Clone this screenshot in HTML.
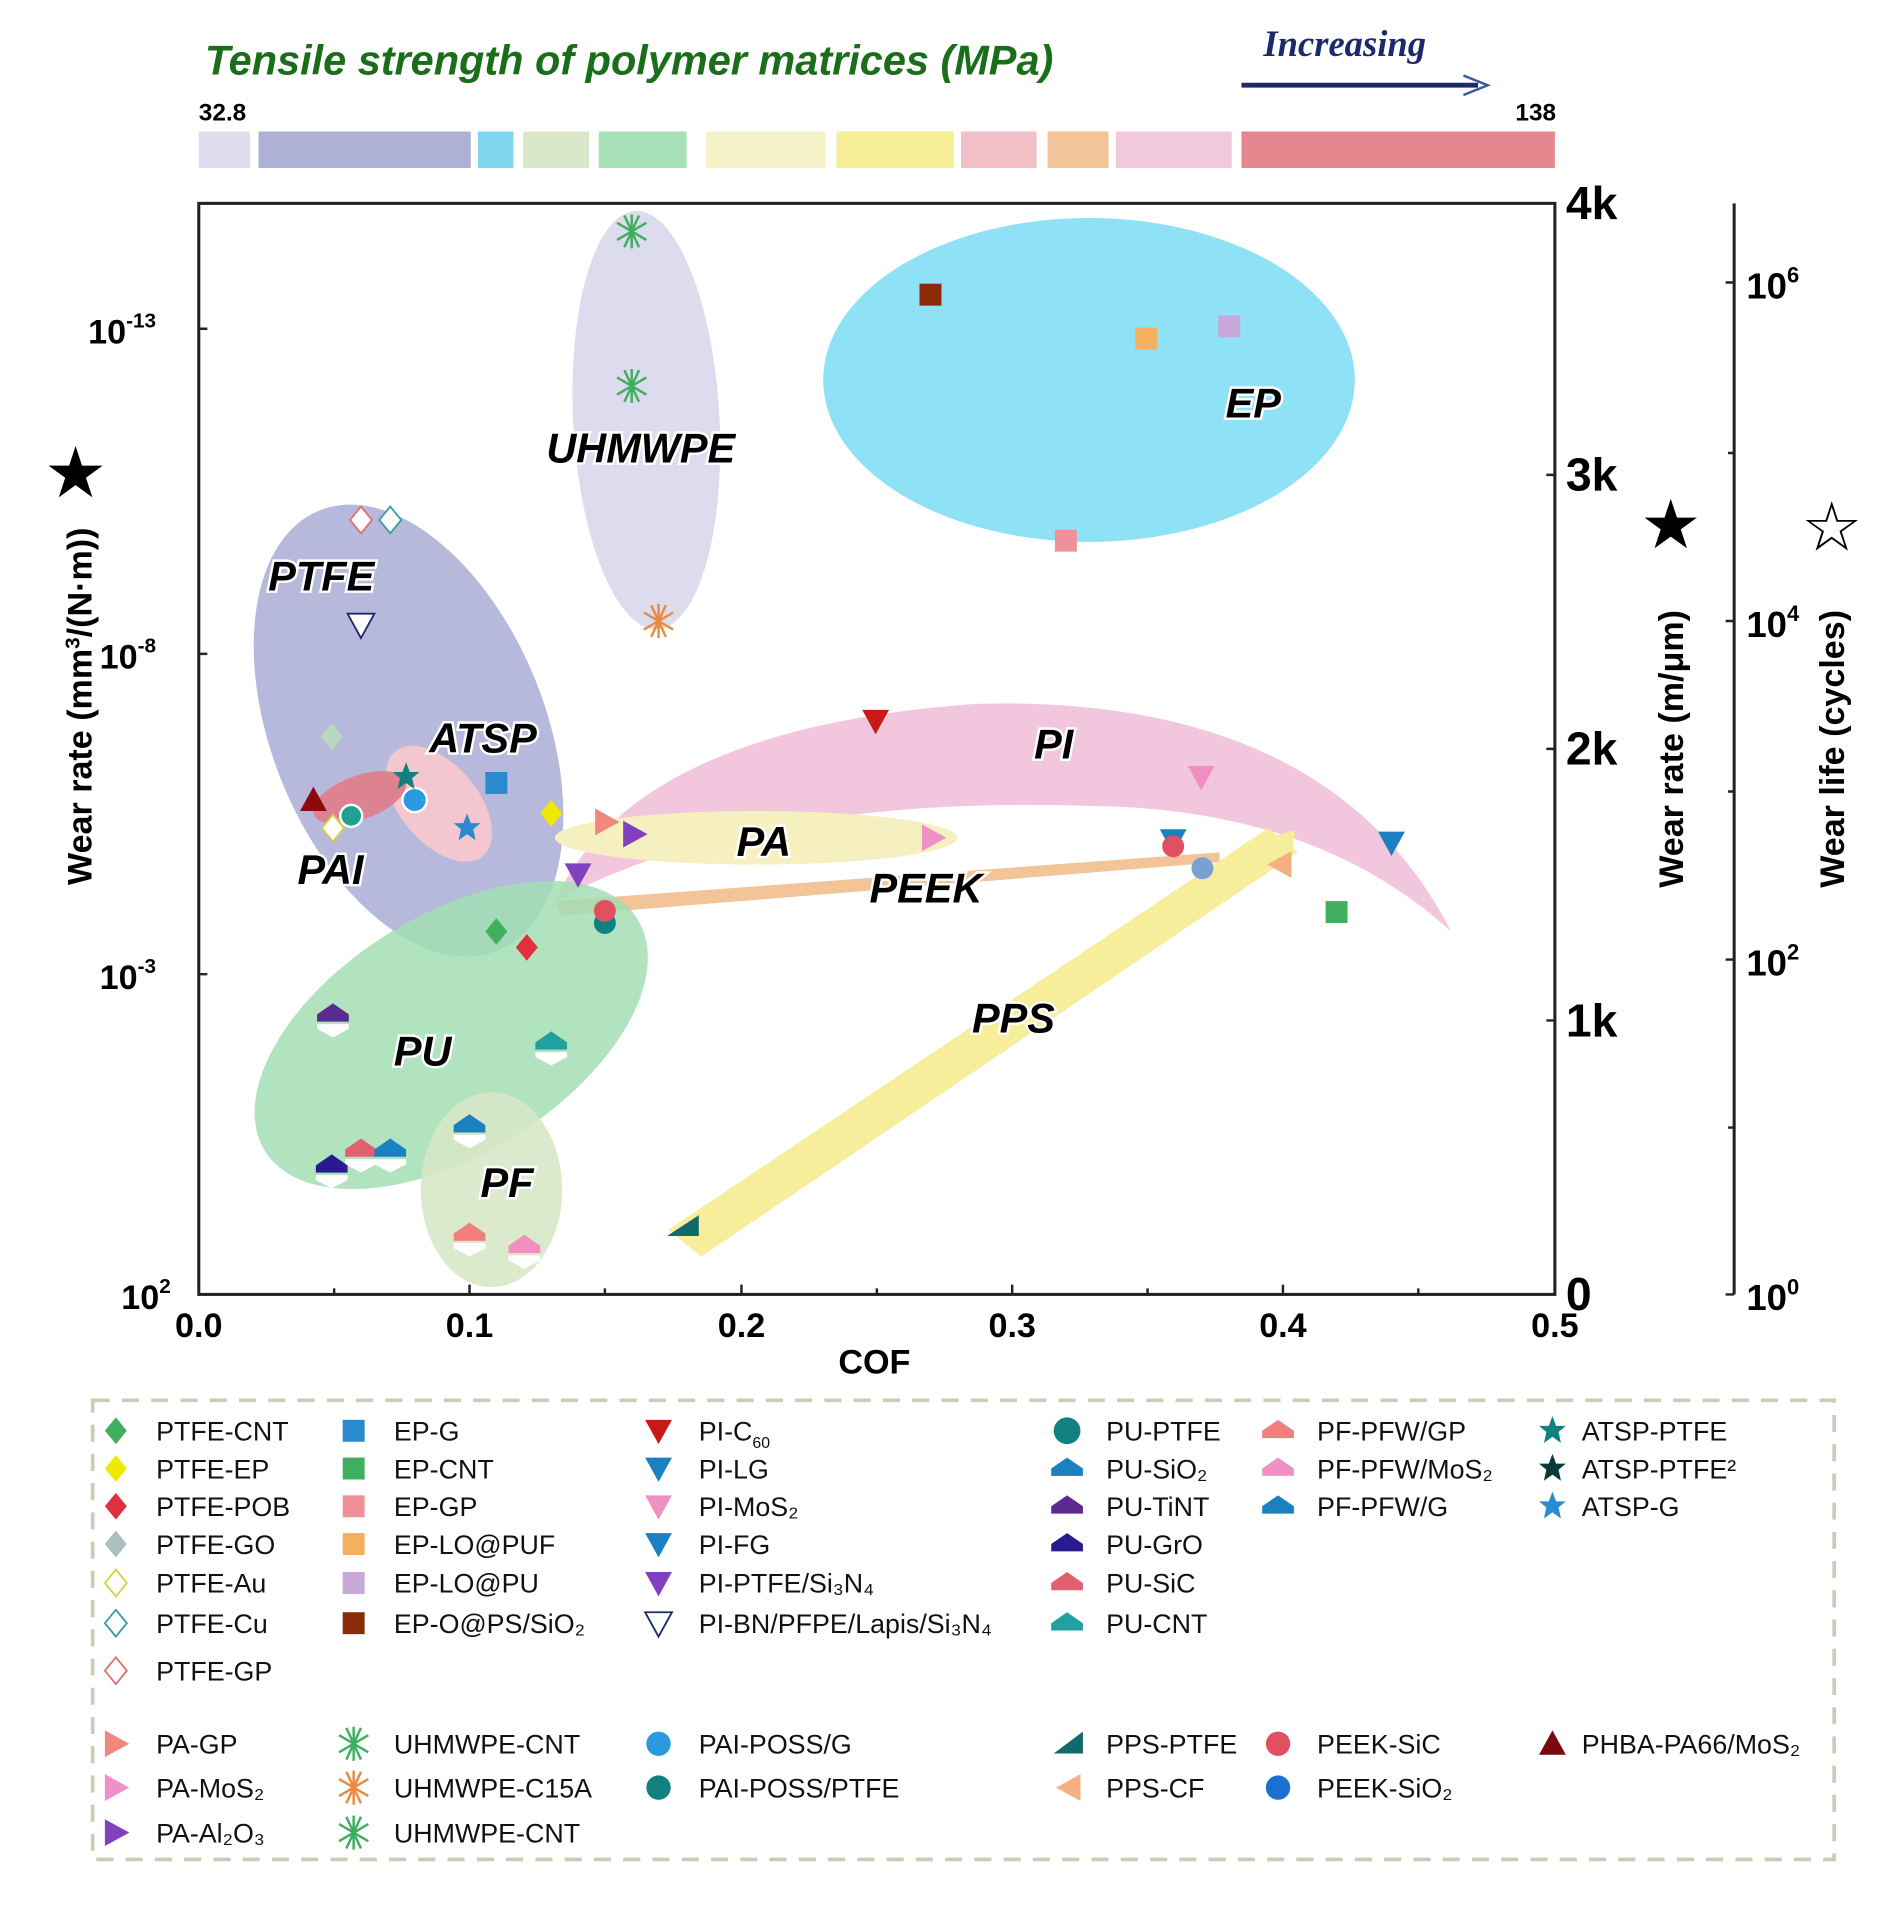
<!DOCTYPE html>
<html><head><meta charset="utf-8"><style>html,body{margin:0;padding:0;background:#fff}svg{display:block}</style></head>
<body>
<svg width="1900" height="1913" viewBox="0 0 1558 1571" preserveAspectRatio="none" xmlns="http://www.w3.org/2000/svg" font-family="Liberation Sans, DejaVu Sans, sans-serif">
<defs>
<g id="dia"><polygon points="0,-11 9,0 0,11 -9,0"/></g>
<g id="tdn"><polygon points="-11,-9 11,-9 0,11"/></g>
<g id="tup"><polygon points="-11,9 11,9 0,-11"/></g>
<g id="trt"><polygon points="-9,-11 11,0 -9,11"/></g>
<g id="tlt"><polygon points="9,-11 -11,0 9,11"/></g>
<g id="sq"><rect x="-9" y="-9" width="18" height="18"/></g>
<g id="hh"><polygon points="-13,2 -13,-4 0,-13 13,-4 13,2"/><polygon points="-13,4 13,4 13,8 0,15 -13,8" fill="#fff"/></g>
<g id="st"><polygon points="0,-12 3,-4 11,-4 5,1 7,10 0,5 -7,10 -5,1 -11,-4 -3,-4"/></g>
<g id="ast"><path d="M0,-14V14M-12,-7L12,7M-12,7L12,-7M-6,-13L6,13M6,-13L-6,13" stroke-width="2" fill="none"/></g>
</defs>

<text x="168" y="61" font-size="34" font-weight="bold" font-style="italic" fill="#1a6e1a">Tensile strength of polymer matrices (MPa)</text>
<text x="1036" y="46" font-size="30" font-style="italic" font-weight="bold" font-family="Liberation Serif, serif" fill="#1a2a6a">Increasing</text>
<line x1="1018" y1="70" x2="1212" y2="70" stroke="#1a2a6a" stroke-width="4"/>
<polyline points="1200,62 1220,70 1200,78" fill="none" stroke="#3a5aa0" stroke-width="2"/>
<text x="163" y="99" font-size="20" font-weight="bold">32.8</text>
<text x="1276" y="99" font-size="20" font-weight="bold" text-anchor="end">138</text>
<g stroke="none">
<rect x="163" y="108" width="42" height="30" fill="#dddded"/>
<rect x="212" y="108" width="174" height="30" fill="#aeb1d5"/>
<rect x="392" y="108" width="29" height="30" fill="#80d6ee"/>
<rect x="429" y="108" width="54" height="30" fill="#d7e7c8"/>
<rect x="491" y="108" width="72" height="30" fill="#a8e1b8"/>
<rect x="579" y="108" width="98" height="30" fill="#f6f2c8"/>
<rect x="686" y="108" width="96" height="30" fill="#f7ee98"/>
<rect x="788" y="108" width="62" height="30" fill="#f2c1c8"/>
<rect x="859" y="108" width="50" height="30" fill="#f2c498"/>
<rect x="915" y="108" width="95" height="30" fill="#f2c8dc"/>
<rect x="1018" y="108" width="257" height="30" fill="#e6868f"/>
</g>

<ellipse cx="530" cy="345" rx="60" ry="172" fill="#dcdcee" transform="rotate(-3 530 345)"/>
<ellipse cx="893" cy="312" rx="218" ry="133" fill="#8fe1f5"/>
<path d="M455 740 Q520 598 800 578 Q1090 570 1190 765 Q1080 665 900 662 Q620 652 455 740 Z" fill="#f2c6dc"/>
<ellipse cx="335" cy="600" rx="112" ry="195" fill="#a9add5" opacity="0.85" transform="rotate(-22 335 600)"/>
<ellipse cx="620" cy="688" rx="165" ry="22" fill="#f6f0c0"/>
<polygon points="455,740 1000,700 1000,708 460,752" fill="#f2c498"/>
<ellipse cx="370" cy="850" rx="180" ry="98" fill="#a3deb3" opacity="0.85" transform="rotate(-32 370 850)"/>
<ellipse cx="403" cy="977" rx="58" ry="80" fill="#d7e7c8" opacity="0.9"/>
<ellipse cx="360" cy="660" rx="32" ry="56" fill="#f4c6cf" transform="rotate(-40 360 660)"/>
<ellipse cx="295" cy="655" rx="40" ry="18" fill="#dd8290" transform="rotate(-20 295 655)"/>
<polygon points="548,1010 1040,680 1064,700 575,1032" fill="#f6ee9a"/>
<polygon points="1030,690 1062,682 1058,716" fill="#f6ee9a"/>

<g font-size="34" font-weight="bold" font-style="italic" fill="#000" stroke="#fff" stroke-width="4" paint-order="stroke">
<text x="448" y="380">UHMWPE</text>
<text x="1005" y="343">EP</text>
<text x="220" y="485">PTFE</text>
<text x="352" y="618">ATSP</text>
<text x="848" y="623">PI</text>
<text x="604" y="703">PA</text>
<text x="244" y="726">PAI</text>
<text x="713" y="741">PEEK</text>
<text x="323" y="875">PU</text>
<text x="797" y="848">PPS</text>
<text x="394" y="983">PF</text>
</g>

<use href="#ast" x="518" y="190" stroke="#3fae60"/>
<use href="#ast" x="518" y="317" stroke="#3fae60"/>
<use href="#ast" x="540" y="510" stroke="#e88a40"/>
<use href="#sq" x="763" y="242" fill="#8a2a08"/>
<use href="#sq" x="940" y="278" fill="#f4b060"/>
<use href="#sq" x="1008" y="268" fill="#c8a8d8"/>
<use href="#sq" x="874" y="444" fill="#f09098"/>
<use href="#sq" x="407" y="643" fill="#2a8ad0"/>
<use href="#sq" x="1096" y="749" fill="#40b060"/>
<use href="#dia" x="296" y="427" fill="#fff" stroke="#e07070" stroke-width="1.5"/>
<use href="#dia" x="320" y="427" fill="#fff" stroke="#3a9aa0" stroke-width="1.5"/>
<use href="#tdn" x="296" y="513" fill="#fff" stroke="#1a2a6a" stroke-width="1.5"/>
<use href="#dia" x="272" y="605" fill="#b8d8c0"/>
<use href="#dia" x="452" y="668" fill="#f0e800"/>
<use href="#dia" x="273" y="680" fill="#fff" stroke="#d8d040" stroke-width="1.5"/>
<use href="#dia" x="407" y="765" fill="#40b060"/>
<use href="#dia" x="432" y="778" fill="#e03040"/>
<use href="#tdn" x="718" y="592" fill="#c81818"/>
<use href="#tdn" x="985" y="638" fill="#f090c0"/>
<use href="#tdn" x="1141" y="692" fill="#1a80c0"/>
<use href="#tdn" x="962" y="690" fill="#1a80c0"/>
<use href="#tdn" x="474" y="718" fill="#8040c0"/>
<use href="#trt" x="497" y="675" fill="#f08880"/>
<use href="#trt" x="520" y="685" fill="#8040c0"/>
<use href="#trt" x="765" y="688" fill="#f090c8"/>
<use href="#tup" x="257" y="657" fill="#8a0a10"/>
<circle cx="288" cy="670" r="9" fill="#20a090" stroke="#fff" stroke-width="2"/>
<circle cx="340" cy="657" r="10" fill="#2a9ae0" stroke="#fff" stroke-width="2"/>
<use href="#st" x="333" y="638" fill="#108080"/>
<use href="#st" x="383" y="680" fill="#2a8ad0"/>
<circle cx="962" cy="695" r="9" fill="#e05060"/>
<circle cx="986" cy="713" r="9" fill="#7aa0d0"/>
<circle cx="496" cy="758" r="9" fill="#108080"/>
<circle cx="496" cy="748" r="9" fill="#e05060"/>
<use href="#hh" x="273" y="837" fill="#5a2a90"/>
<use href="#hh" x="452" y="860" fill="#20a0a0"/>
<use href="#hh" x="385" y="928" fill="#1a80c0"/>
<use href="#hh" x="296" y="948" fill="#e06070"/>
<use href="#hh" x="320" y="948" fill="#1a80c0"/>
<use href="#hh" x="272" y="961" fill="#2a1a90"/>
<use href="#hh" x="385" y="1017" fill="#f08080"/>
<use href="#hh" x="430" y="1027" fill="#f090c0"/>
<polygon points="547,1015 573,1015 573,998" fill="#106a6a"/>
<use href="#tlt" x="1050" y="710" fill="#f4b080"/>

<g stroke="#222" stroke-width="2.5" fill="none">
<rect x="163" y="167" width="1112" height="896"/>
<line x1="1422" y1="167" x2="1422" y2="1063"/>
</g>
<g stroke="#222" stroke-width="2">
<path d="M163 1063v-8M274 1063v-5M385 1063v-8M496 1063v-5M608 1063v-8M719 1063v-5M830 1063v-8M941 1063v-5M1052 1063v-8M1163 1063v-5M1275 1063v-8"/>
<path d="M163 270h7M163 537h7M163 800h7"/>
<path d="M1275 390h-7M1275 615h-7M1275 838h-7"/>
<path d="M1422 232h-7M1422 372h-5M1422 510h-7M1422 650h-5M1422 788h-7M1422 926h-5M1422 1063h-7"/>
</g>
<g font-size="28" font-weight="bold" text-anchor="middle">
<text x="163" y="1098">0.0</text><text x="385" y="1098">0.1</text><text x="608" y="1098">0.2</text>
<text x="830" y="1098">0.3</text><text x="1052" y="1098">0.4</text><text x="1275" y="1098">0.5</text>
<text x="717" y="1128">COF</text>
</g>
<g font-size="28" font-weight="bold" text-anchor="end">
<text x="128" y="282">10<tspan font-size="17" dy="-13">-13</tspan></text>
<text x="128" y="549">10<tspan font-size="17" dy="-13">-8</tspan></text>
<text x="128" y="812">10<tspan font-size="17" dy="-13">-3</tspan></text>
<text x="140" y="1075">10<tspan font-size="17" dy="-13">2</tspan></text>
</g>
<g font-size="38" font-weight="bold">
<text x="1284" y="180">4k</text><text x="1284" y="403">3k</text><text x="1284" y="628">2k</text>
<text x="1284" y="851">1k</text><text x="1284" y="1076">0</text>
</g>
<g font-size="30" font-weight="bold">
<text x="1432" y="245">10<tspan font-size="18" dy="-13">6</tspan></text>
<text x="1432" y="523">10<tspan font-size="18" dy="-13">4</tspan></text>
<text x="1432" y="801">10<tspan font-size="18" dy="-13">2</tspan></text>
<text x="1432" y="1076">10<tspan font-size="18" dy="-13">0</tspan></text>
</g>
<text transform="translate(75 580) rotate(-90)" font-size="28" font-weight="bold" text-anchor="middle">Wear rate (mm<tspan font-size="17" dy="-10">3</tspan><tspan dy="10">/(N·m))</tspan></text>
<text x="62" y="408" font-size="58" text-anchor="middle">★</text>
<text transform="translate(1380 615) rotate(-90)" font-size="28" font-weight="bold" text-anchor="middle">Wear rate (m/μm)</text>
<text x="1370" y="450" font-size="56" text-anchor="middle" fill="#000">★</text>
<text transform="translate(1512 615) rotate(-90)" font-size="28" font-weight="bold" text-anchor="middle">Wear life (cycles)</text>
<text x="1502" y="452" font-size="56" text-anchor="middle">☆</text>

<rect x="76" y="1150" width="1428" height="377" fill="none" stroke="#c9ccb6" stroke-width="3" stroke-dasharray="14 10"/>
<g>
<use href="#dia" x="95" y="1175" fill="#40b060"/>
<use href="#dia" x="95" y="1206" fill="#f0e800"/>
<use href="#dia" x="95" y="1237" fill="#e03040"/>
<use href="#dia" x="95" y="1268" fill="#a8c0c0"/>
<use href="#dia" x="95" y="1300" fill="#fff" stroke="#d8d040" stroke-width="1.5"/>
<use href="#dia" x="95" y="1333" fill="#fff" stroke="#3a9aa0" stroke-width="1.5"/>
<use href="#dia" x="95" y="1372" fill="#fff" stroke="#e07070" stroke-width="1.5"/>
<use href="#sq" x="290" y="1175" fill="#2a8ad0"/>
<use href="#sq" x="290" y="1206" fill="#40b060"/>
<use href="#sq" x="290" y="1237" fill="#f09098"/>
<use href="#sq" x="290" y="1268" fill="#f4b060"/>
<use href="#sq" x="290" y="1300" fill="#c8a8d8"/>
<use href="#sq" x="290" y="1333" fill="#8a2a08"/>
<use href="#tdn" x="540" y="1175" fill="#c81818"/>
<use href="#tdn" x="540" y="1206" fill="#1a80c0"/>
<use href="#tdn" x="540" y="1237" fill="#f090c0"/>
<use href="#tdn" x="540" y="1268" fill="#1a80c0"/>
<use href="#tdn" x="540" y="1300" fill="#8040c0"/>
<use href="#tdn" x="540" y="1333" fill="#fff" stroke="#1a2a6a" stroke-width="1.5"/>
<circle cx="875" cy="1175" r="11" fill="#108080"/>
<use href="#hh" x="875" y="1210" fill="#1a80c0"/>
<use href="#hh" x="875" y="1241" fill="#5a2a90"/>
<use href="#hh" x="875" y="1272" fill="#2a1a90"/>
<use href="#hh" x="875" y="1304" fill="#e06070"/>
<use href="#hh" x="875" y="1337" fill="#20a0a0"/>
<use href="#hh" x="1048" y="1179" fill="#f08080"/>
<use href="#hh" x="1048" y="1210" fill="#f090c0"/>
<use href="#hh" x="1048" y="1241" fill="#1a80c0"/>
<use href="#st" x="1273" y="1175" fill="#108080"/>
<use href="#st" x="1273" y="1206" fill="#0a3a3a"/>
<use href="#st" x="1273" y="1237" fill="#2a8ad0"/>
<use href="#trt" x="95" y="1432" fill="#f08880"/>
<use href="#trt" x="95" y="1468" fill="#f090c8"/>
<use href="#trt" x="95" y="1505" fill="#8040c0"/>
<use href="#ast" x="290" y="1432" stroke="#3fae60"/>
<use href="#ast" x="290" y="1468" stroke="#e88a40"/>
<use href="#ast" x="290" y="1505" stroke="#3fae60"/>
<circle cx="540" cy="1432" r="10" fill="#2a9ae0"/>
<circle cx="540" cy="1468" r="10" fill="#108080"/>
<polygon points="864,1440 888,1440 888,1422" fill="#106a6a"/>
<use href="#tlt" x="877" y="1468" fill="#f4b080"/>
<circle cx="1048" cy="1432" r="10" fill="#e05060"/>
<circle cx="1048" cy="1468" r="10" fill="#1a70d0"/>
<use href="#tup" x="1273" y="1432" fill="#7a0a10"/>
</g>
<g font-size="22" fill="#111">
<text x="128" y="1183">PTFE-CNT</text><text x="128" y="1214">PTFE-EP</text><text x="128" y="1245">PTFE-POB</text>
<text x="128" y="1276">PTFE-GO</text><text x="128" y="1308">PTFE-Au</text><text x="128" y="1341">PTFE-Cu</text><text x="128" y="1380">PTFE-GP</text>
<text x="323" y="1183">EP-G</text><text x="323" y="1214">EP-CNT</text><text x="323" y="1245">EP-GP</text>
<text x="323" y="1276">EP-LO@PUF</text><text x="323" y="1308">EP-LO@PU</text><text x="323" y="1341">EP-O@PS/SiO₂</text>
<text x="573" y="1183">PI-C<tspan font-size="13" dy="6">60</tspan></text><text x="573" y="1214">PI-LG</text><text x="573" y="1245">PI-MoS₂</text>
<text x="573" y="1276">PI-FG</text><text x="573" y="1308">PI-PTFE/Si₃N₄</text><text x="573" y="1341">PI-BN/PFPE/Lapis/Si₃N₄</text>
<text x="907" y="1183">PU-PTFE</text><text x="907" y="1214">PU-SiO₂</text><text x="907" y="1245">PU-TiNT</text>
<text x="907" y="1276">PU-GrO</text><text x="907" y="1308">PU-SiC</text><text x="907" y="1341">PU-CNT</text>
<text x="1080" y="1183">PF-PFW/GP</text><text x="1080" y="1214">PF-PFW/MoS₂</text><text x="1080" y="1245">PF-PFW/G</text>
<text x="1297" y="1183">ATSP-PTFE</text><text x="1297" y="1214">ATSP-PTFE²</text><text x="1297" y="1245">ATSP-G</text>
<text x="128" y="1440">PA-GP</text><text x="128" y="1476">PA-MoS₂</text><text x="128" y="1513">PA-Al₂O₃</text>
<text x="323" y="1440">UHMWPE-CNT</text><text x="323" y="1476">UHMWPE-C15A</text><text x="323" y="1513">UHMWPE-CNT</text>
<text x="573" y="1440">PAI-POSS/G</text><text x="573" y="1476">PAI-POSS/PTFE</text>
<text x="907" y="1440">PPS-PTFE</text><text x="907" y="1476">PPS-CF</text>
<text x="1080" y="1440">PEEK-SiC</text><text x="1080" y="1476">PEEK-SiO₂</text>
<text x="1297" y="1440">PHBA-PA66/MoS₂</text>
</g>
</svg>
</body></html>
